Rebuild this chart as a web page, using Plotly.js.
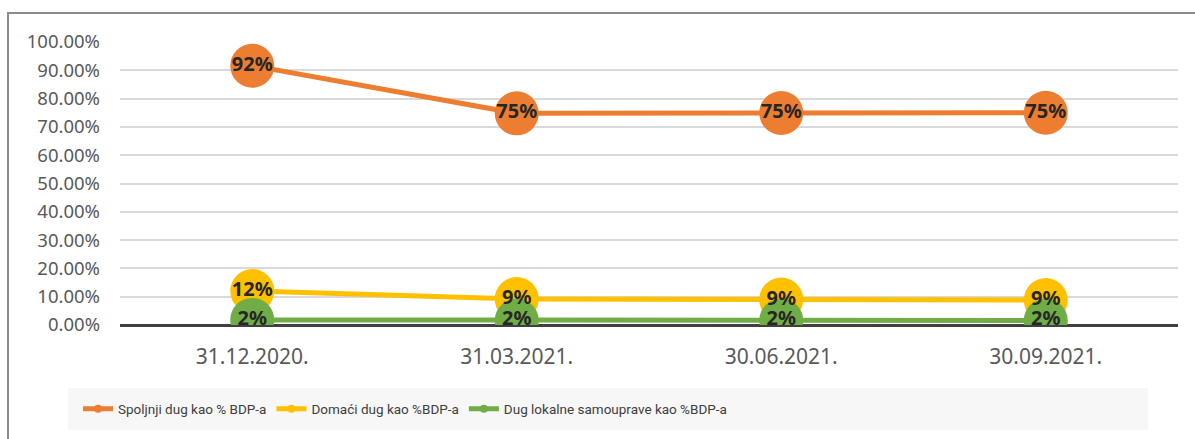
<!DOCTYPE html>
<html>
<head>
<meta charset="utf-8">
<script src="https://cdn.plot.ly/plotly-3.0.1.min.js"></script>
<style>
html,body{margin:0;padding:0;background:#fff;}
#wrap{position:relative;width:1195px;height:439px;}
#chart{position:absolute;left:0;top:0;width:1195px;height:439px;}
#frame{position:absolute;left:7px;top:12px;width:1195px;height:440px;border-left:2px solid #8c8c8c;border-top:2px solid #8c8c8c;pointer-events:none;box-sizing:border-box;}
</style>
</head>
<body>
<div id="wrap"><div id="chart"></div><div id="frame"></div></div>
<script>
const categories = ["31.12.2020.", "31.03.2021.", "30.06.2021.", "30.09.2021."];
const spoljnji = [0.916, 0.748, 0.749, 0.750];
const domaci = [0.120, 0.092, 0.090, 0.088];
const lokalni = [0.018, 0.016, 0.016, 0.016];
const seriesNames = ["Spoljnji dug kao % BDP-a", "Domaći dug kao %BDP-a", "Dug lokalne samouprave kao %BDP-a"];
const seriesColors = ["#ED7D31", "#FFC000", "#70AD47"];
const seriesValues = [spoljnji, domaci, lokalni];

const traces = [];
// lines and markers
seriesValues.forEach((vals, i) => {
  traces.push({
    type: "scatter", mode: "lines+markers", x: categories, y: vals, name: seriesNames[i],
    showlegend: false,
    line: {color: seriesColors[i], width: 5},
    marker: {color: seriesColors[i], size: 44, line: {width: 0}},
    hoverinfo: "skip"
  });
});
// data labels on top of all markers
seriesValues.forEach((vals, i) => {
  traces.push({
    type: "scatter", mode: "text", x: categories, y: vals, showlegend: false,
    texttemplate: "%{y:.0%}", textposition: "middle center",
    textfont: {family: "Noto Sans, sans-serif", size: 20, color: "#262626", weight: "bold"},
    hoverinfo: "skip"
  });
});
// legend entries (small symbol like the reference)
seriesNames.forEach((nm, i) => {
  traces.push({
    type: "scatter", mode: "lines+markers", x: [categories[0]], y: [null], name: nm,
    line: {color: seriesColors[i], width: 5},
    marker: {color: seriesColors[i], size: 8},
    hoverinfo: "skip"
  });
});

const L = 120, R = 1178, T = 42, B = 325;
const px = v => (v - L) / (R - L);
const py = v => (B - v) / (B - T);

const layout = {
  width: 1195, height: 439,
  margin: {l: L, r: 1195 - R, t: T, b: 439 - B},
  paper_bgcolor: "#ffffff", plot_bgcolor: "#ffffff",
  showlegend: true,
  font: {family: "Noto Sans, sans-serif", color: "#595959", size: 18},
  xaxis: {
    type: "category", range: [-0.5, 3.5], showgrid: false, zeroline: false, showline: false,
    ticks: "", tickfont: {size: 21, color: "#595959"}, ticklabelstandoff: 17, fixedrange: true
  },
  yaxis: {
    range: [0, 1], dtick: 0.1, tickformat: ".2%", showgrid: true, gridcolor: "#d9d9d9", gridwidth: 2,
    zeroline: true, zerolinecolor: "#404040", zerolinewidth: 3, showline: false, ticks: "",
    tickfont: {size: 18.5, color: "#595959"}, ticklabelstandoff: 19, fixedrange: true
  },
  legend: {
    orientation: "h", x: px(78), xanchor: "left", y: py(409), yanchor: "middle",
    bgcolor: "rgba(0,0,0,0)", font: {family: "Roboto, sans-serif", size: 13.5, color: "#404040"},
    itemwidth: 30, tracegroupgap: 0
  },
  shapes: [{
    type: "rect", xref: "paper", yref: "paper", x0: px(68), x1: px(1148), y0: py(430), y1: py(388),
    fillcolor: "#f7f7f7", line: {width: 0}, layer: "below"
  }]
};

Plotly.newPlot("chart", traces, layout, {displayModeBar: false, staticPlot: true});
</script>
</body>
</html>
